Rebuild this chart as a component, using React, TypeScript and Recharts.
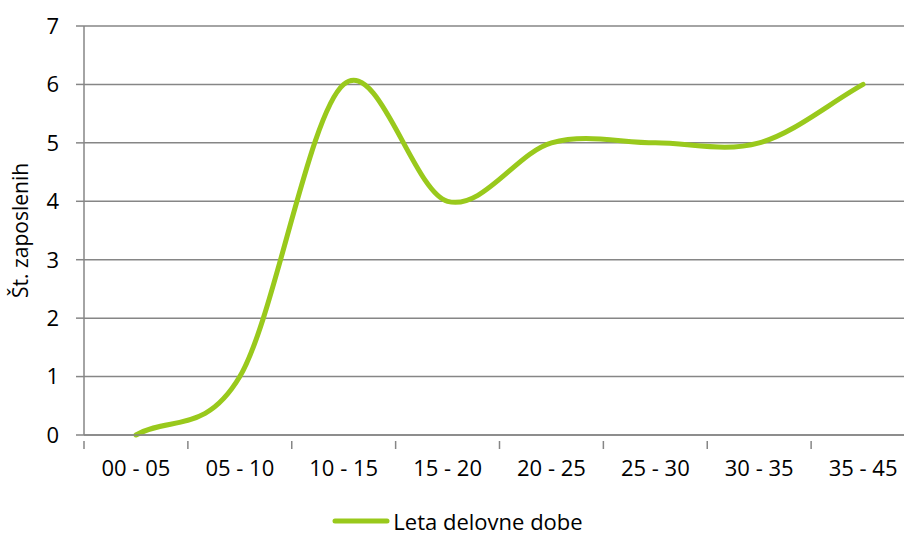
import { LineChart, Line, XAxis, YAxis, CartesianGrid, Legend } from 'recharts';

const categories = ['00 - 05', '05 - 10', '10 - 15', '15 - 20', '20 - 25', '25 - 30', '30 - 35', '35 - 45'];
const employees = [0, 1, 6, 4, 5, 5, 5, 6];
const yTicks = [0, 1, 2, 3, 4, 5, 6, 7];

const SERIES_NAME = 'Leta delovne dobe';
const LINE_COLOR = '#99c91c';
const AXIS_COLOR = '#868686';
const FONT = '"Open Sans", "Liberation Sans", sans-serif';

const data = categories.map((cat, i) => ({ cat, value: employees[i] }));

// Catmull-Rom style smoothing as a d3-style curve factory. Points are buffered
// and drawn on lineEnd; the ends use mirrored phantom points so the curve
// leaves the first point and reaches the last one with a real slope.
class SmoothCurve {
    _context: any;
    _pts: [number, number][] = [];

    constructor(context: any) {
        this._context = context;
    }
    areaStart() {}
    areaEnd() {}
    lineStart() { this._pts = []; }
    point(x: number, y: number) { this._pts.push([+x, +y]); }
    lineEnd() {
        const p = this._pts;
        const ctx = this._context;
        if (!p.length) return;
        ctx.moveTo(p[0][0], p[0][1]);
        if (p.length === 1) return;
        const at = (i: number): [number, number] => {
            if (i < 0) return [2 * p[0][0] - p[1][0], 2 * p[0][1] - p[1][1]];
            if (i >= p.length) {
                const n = p.length - 1;
                return [2 * p[n][0] - p[n - 1][0], 2 * p[n][1] - p[n - 1][1]];
            }
            return p[i];
        };
        for (let i = 0; i < p.length - 1; i++) {
            const p0 = at(i - 1), p1 = at(i), p2 = at(i + 1), p3 = at(i + 2);
            ctx.bezierCurveTo(
                p1[0] + (p2[0] - p0[0]) / 6,
                p1[1] + (p2[1] - p0[1]) / 6,
                p2[0] - (p3[0] - p1[0]) / 6,
                p2[1] - (p3[1] - p1[1]) / 6,
                p2[0],
                p2[1]
            );
        }
    }
}

const smoothCurve = (context: any) => new SmoothCurve(context);

// category tick: label centred on the band, tick mark on the band's left edge
const CategoryTick = (props: any) => {
    const { x, y, payload } = props;
    const edge = x - (payload.offset || 0);
    return (
        <g>
            <line x1={edge} y1={y - 17} x2={edge} y2={y - 9} stroke={AXIS_COLOR} strokeWidth={1.5} />
            <text x={x} y={y + 18} textAnchor="middle" fill="#000" fontSize={22} fontFamily={FONT}>
                {payload.value}
            </text>
        </g>
    );
};

const LegendContent = () => (
    <div style={{ display: 'flex', justifyContent: 'center', alignItems: 'center', height: 30, fontFamily: FONT, fontSize: 22 }}>
        <svg width={58} height={10} style={{ marginRight: 3 }}>
            <line x1={3} y1={5} x2={55} y2={5} stroke={LINE_COLOR} strokeWidth={5} strokeLinecap="round" />
        </svg>
        <span style={{ color: '#000', lineHeight: '30px' }}>{SERIES_NAME}</span>
    </div>
);

export default function App() {
    return (
        <div style={{ width: 904, height: 536, overflow: 'hidden', background: '#fff' }}>
            <style>{'body{margin:0}'}</style>
            <LineChart width={930} height={536} data={data} margin={{ top: 26, right: 15, bottom: 0, left: 0 }}>
                <CartesianGrid vertical={false} stroke={AXIS_COLOR} strokeWidth={1.5} />
                <XAxis
                    dataKey="cat"
                    scale="band"
                    height={71}
                    axisLine={{ stroke: AXIS_COLOR, strokeWidth: 1.5 }}
                    tickLine={false}
                    tickMargin={17}
                    tick={<CategoryTick />}
                    interval={0}
                />
                <YAxis
                    width={84}
                    domain={[0, 7]}
                    ticks={yTicks}
                    interval={0}
                    axisLine={{ stroke: AXIS_COLOR, strokeWidth: 1.5 }}
                    tickLine={{ stroke: AXIS_COLOR, strokeWidth: 1.5 }}
                    tickSize={8}
                    tickMargin={17}
                    tick={{ fill: '#000', fontSize: 22, fontFamily: FONT }}
                    label={{ value: 'Št. zaposlenih', angle: -90, position: 'center', dx: -21, fill: '#000', fontSize: 21, fontFamily: FONT }}
                />
                <Legend verticalAlign="bottom" height={30} content={<LegendContent />} />
                <Line
                    dataKey="value"
                    name={SERIES_NAME}
                    type={smoothCurve as any}
                    stroke={LINE_COLOR}
                    strokeWidth={5}
                    strokeLinecap="round"
                    dot={false}
                    activeDot={false}
                    isAnimationActive={false}
                />
            </LineChart>
        </div>
    );
}
